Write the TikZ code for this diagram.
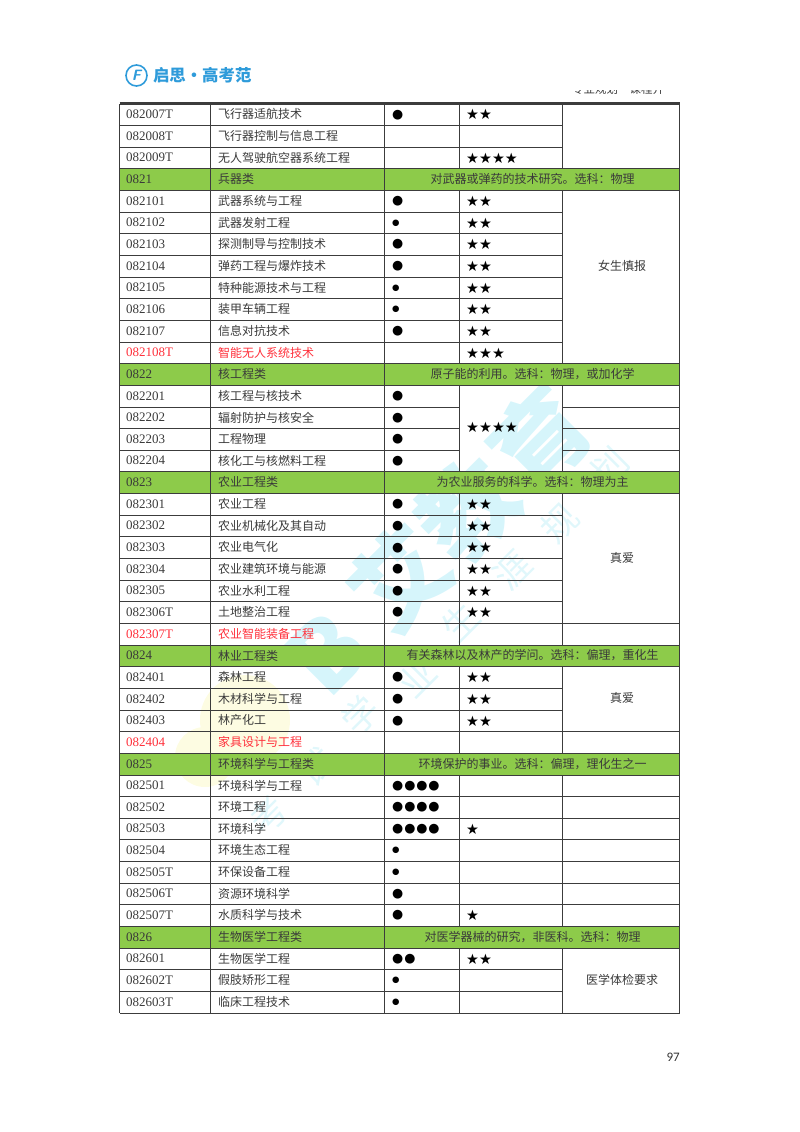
\documentclass[tikz,border=0pt]{standalone}
\usepackage{fontspec}
\usetikzlibrary{positioning}
\setmainfont{Liberation Serif}
\newfontfamily\cjk{Noto Sans CJK SC}
\newfontfamily\symb{DejaVu Sans}
\newfontfamily\pagefont{Carlito}
\definecolor{headgreen}{HTML}{8DCB4A}
\definecolor{gridgray}{HTML}{3C3C3C}
\definecolor{inkgray}{HTML}{3A3A3A}
\definecolor{newred}{HTML}{FF2F3A}
\definecolor{markcyan}{HTML}{D6F5FB}
\definecolor{softcyan}{HTML}{E0F7FB}
\definecolor{softyellow}{HTML}{FDFCE2}
\definecolor{logoblue}{HTML}{2E9BDA}
\newcommand{\bigdots}[1]{{\symb\fontsize{12.8}{14}\selectfont\foreach \n in {1,...,#1}{●\kern0.9pt}}}
\newcommand{\smalldot}{{\symb\fontsize{8.5}{12}\selectfont ●}}
\newcommand{\stars}[1]{{\symb\fontsize{14.4}{16}\selectfont\foreach \n in {1,...,#1}{★}}}
\tikzset{
  gridline/.style = {draw=gridgray, line width=1pt},
  codecell/.style = {anchor=west, inner sep=0pt, font=\fontsize{13}{14}\selectfont},
  namecell/.style = {anchor=west, inner sep=0pt, font=\cjk\fontsize{12}{14}\selectfont},
  markcell/.style = {anchor=west, inner sep=0pt},
  bigmark/.style = {text=markcyan, font=\cjk\bfseries\fontsize{95}{95}\selectfont, rotate=45},
  softmark/.style = {text=softcyan, font=\cjk\fontsize{36}{36}\selectfont, rotate=45},
}
\begin{document}
\begin{tikzpicture}[x=1pt,y=-1pt,text=inkgray]
  \useasboundingbox (0,0) rectangle (800,1132);
  % watermark
  \fill[softyellow] (245,720) circle (45);
  \fill[softyellow] (205,757) circle (30);
  \foreach \bm/\bx/\by [count=\b] in {B/327/653,艾/400/578,教/468/510,育/540/438}
    \node[bigmark] (brand\b) at (\bx,\by) {\bm};
  \foreach \wm/\wx/\wy [count=\w] in {考/268/815,试/317/767,学/360/715,业/417/678,生/460/622,涯/513/570,规/560/523,划/610/467}
    \node[softmark] (wm\w) at (\wx,\wy) {\wm};
  % page head
  \node[circle, draw=logoblue, line width=1.6pt, minimum size=21pt, inner sep=0pt,
        text=logoblue, font=\sffamily\bfseries\itshape\fontsize{15}{15}\selectfont] (logo) at (136.5,75.5) {F};
  \node[right=5pt of logo, inner sep=0pt, text=logoblue, font=\cjk\bfseries\fontsize{16.4}{17}\selectfont] (logotext) {启思·高考范};
  \begin{scope}
    \clip (560,90.5) rectangle (680,95);
    \node[anchor=base west, inner sep=0pt, font=\cjk\fontsize{11.5}{12}\selectfont] (headtext) at (572,93.5) {专业规划\quad 课程介};
  \end{scope}
  \node[anchor=east, inner sep=0pt, text=black!80, font=\pagefont\fontsize{13}{14}\selectfont] (pageno) at (680,1057) {97};
  % green rows
  \foreach \r/\hcode/\hname/\hnote in {
    3/0821/兵器类/对武器或弹药的技术研究。选科：物理,
    12/0822/核工程类/原子能的利用。选科：物理，或加化学,
    17/0823/农业工程类/为农业服务的科学。选科：物理为主,
    25/0824/林业工程类/有关森林以及林产的学问。选科：偏理，重化生,
    30/0825/环境科学与工程类/环境保护的事业。选科：偏理，理化生之一,
    38/0826/生物医学工程类/对医学器械的研究，非医科。选科：物理}
  {
    \pgfmathsetmacro\ytop{104+21.645*\r}
    \pgfmathsetmacro\ymid{\ytop+10.4}
    \fill[headgreen] (119.5,\ytop) rectangle (679.5,\ytop+21.645);
    \node[codecell] (hcode\r) at (126,\ymid) {\hcode};
    \node[namecell] (hname\r) at (218,\ymid) {\hname};
    \node[namecell,anchor=center] (hnote\r) at (532.5,\ymid) {\hnote};
  }
  % grid
  \foreach \k in {0,...,42}{
    \pgfmathsetmacro\yk{104+21.645*\k}
    \draw[gridline] (119.5,\yk) -- (459.5,\yk);
  }
  \foreach \k in {0,...,13,17,18,...,42}{
    \pgfmathsetmacro\yk{104+21.645*\k}
    \draw[gridline] (459.5,\yk) -- (562.5,\yk);
  }
  \foreach \k in {0,3,4,12,13,14,15,16,17,18,24,25,26,29,30,...,39,42}{
    \pgfmathsetmacro\yk{104+21.645*\k}
    \draw[gridline] (562.5,\yk) -- (679.5,\yk);
  }
  \foreach \cx in {119.5,210.5,384.5,679.5}
    \draw[gridline] (\cx,104) -- (\cx,1013.1);
  \foreach \a/\b in {0/3,4/12,13/17,18/25,26/30,31/38,39/42}{
    \pgfmathsetmacro\ya{104+21.645*\a}
    \pgfmathsetmacro\yb{104+21.645*\b}
    \draw[gridline] (459.5,\ya) -- (459.5,\yb);
    \draw[gridline] (562.5,\ya) -- (562.5,\yb);
  }
  \draw[gridgray, line width=2.4pt] (119.5,103.6) -- (679.5,103.6);
  % subject rows
  \foreach \r/\scode/\sname/\major/\rate/\tint in {
    0/082007T/飞行器适航技术/\bigdots{1}/\stars{2}/inkgray,
    1/082008T/飞行器控制与信息工程///inkgray,
    2/082009T/无人驾驶航空器系统工程//\stars{4}/inkgray,
    4/082101/武器系统与工程/\bigdots{1}/\stars{2}/inkgray,
    5/082102/武器发射工程/\smalldot/\stars{2}/inkgray,
    6/082103/探测制导与控制技术/\bigdots{1}/\stars{2}/inkgray,
    7/082104/弹药工程与爆炸技术/\bigdots{1}/\stars{2}/inkgray,
    8/082105/特种能源技术与工程/\smalldot/\stars{2}/inkgray,
    9/082106/装甲车辆工程/\smalldot/\stars{2}/inkgray,
    10/082107/信息对抗技术/\bigdots{1}/\stars{2}/inkgray,
    11/082108T/智能无人系统技术//\stars{3}/newred,
    13/082201/核工程与核技术/\bigdots{1}//inkgray,
    14/082202/辐射防护与核安全/\bigdots{1}//inkgray,
    15/082203/工程物理/\bigdots{1}//inkgray,
    16/082204/核化工与核燃料工程/\bigdots{1}//inkgray,
    18/082301/农业工程/\bigdots{1}/\stars{2}/inkgray,
    19/082302/农业机械化及其自动/\bigdots{1}/\stars{2}/inkgray,
    20/082303/农业电气化/\bigdots{1}/\stars{2}/inkgray,
    21/082304/农业建筑环境与能源/\bigdots{1}/\stars{2}/inkgray,
    22/082305/农业水利工程/\bigdots{1}/\stars{2}/inkgray,
    23/082306T/土地整治工程/\bigdots{1}/\stars{2}/inkgray,
    24/082307T/农业智能装备工程///newred,
    26/082401/森林工程/\bigdots{1}/\stars{2}/inkgray,
    27/082402/木材科学与工程/\bigdots{1}/\stars{2}/inkgray,
    28/082403/林产化工/\bigdots{1}/\stars{2}/inkgray,
    29/082404/家具设计与工程///newred,
    31/082501/环境科学与工程/\bigdots{4}//inkgray,
    32/082502/环境工程/\bigdots{4}//inkgray,
    33/082503/环境科学/\bigdots{4}/\stars{1}/inkgray,
    34/082504/环境生态工程/\smalldot//inkgray,
    35/082505T/环保设备工程/\smalldot//inkgray,
    36/082506T/资源环境科学/\bigdots{1}//inkgray,
    37/082507T/水质科学与技术/\bigdots{1}/\stars{1}/inkgray,
    39/082601/生物医学工程/\bigdots{2}/\stars{2}/inkgray,
    40/082602T/假肢矫形工程/\smalldot//inkgray,
    41/082603T/临床工程技术/\smalldot//inkgray}
  {
    \pgfmathsetmacro\ymid{104+21.645*\r+10.4}
    \node[codecell,text=\tint] (code\r) at (126,\ymid) {\scode};
    \node[namecell,text=\tint] (name\r) at (218,\ymid) {\sname};
    \node[markcell,text=black] (major\r) at (392,\ymid+0.4) {\major};
    \node[markcell,text=black] (rate\r) at (466,\ymid+0.4) {\rate};
  }
  % merged cells
  \node[markcell,text=black] (rate13) at (466,427.3) {\stars{4}};
  \node[namecell,anchor=center] (note4) at (622,265.5) {女生慎报};
  \node[namecell,anchor=center] (note18) at (622,557.5) {真爱};
  \node[namecell,anchor=center] (note26) at (622,698) {真爱};
  \node[namecell,anchor=center] (note39) at (622,980) {医学体检要求};
\end{tikzpicture}
\end{document}
